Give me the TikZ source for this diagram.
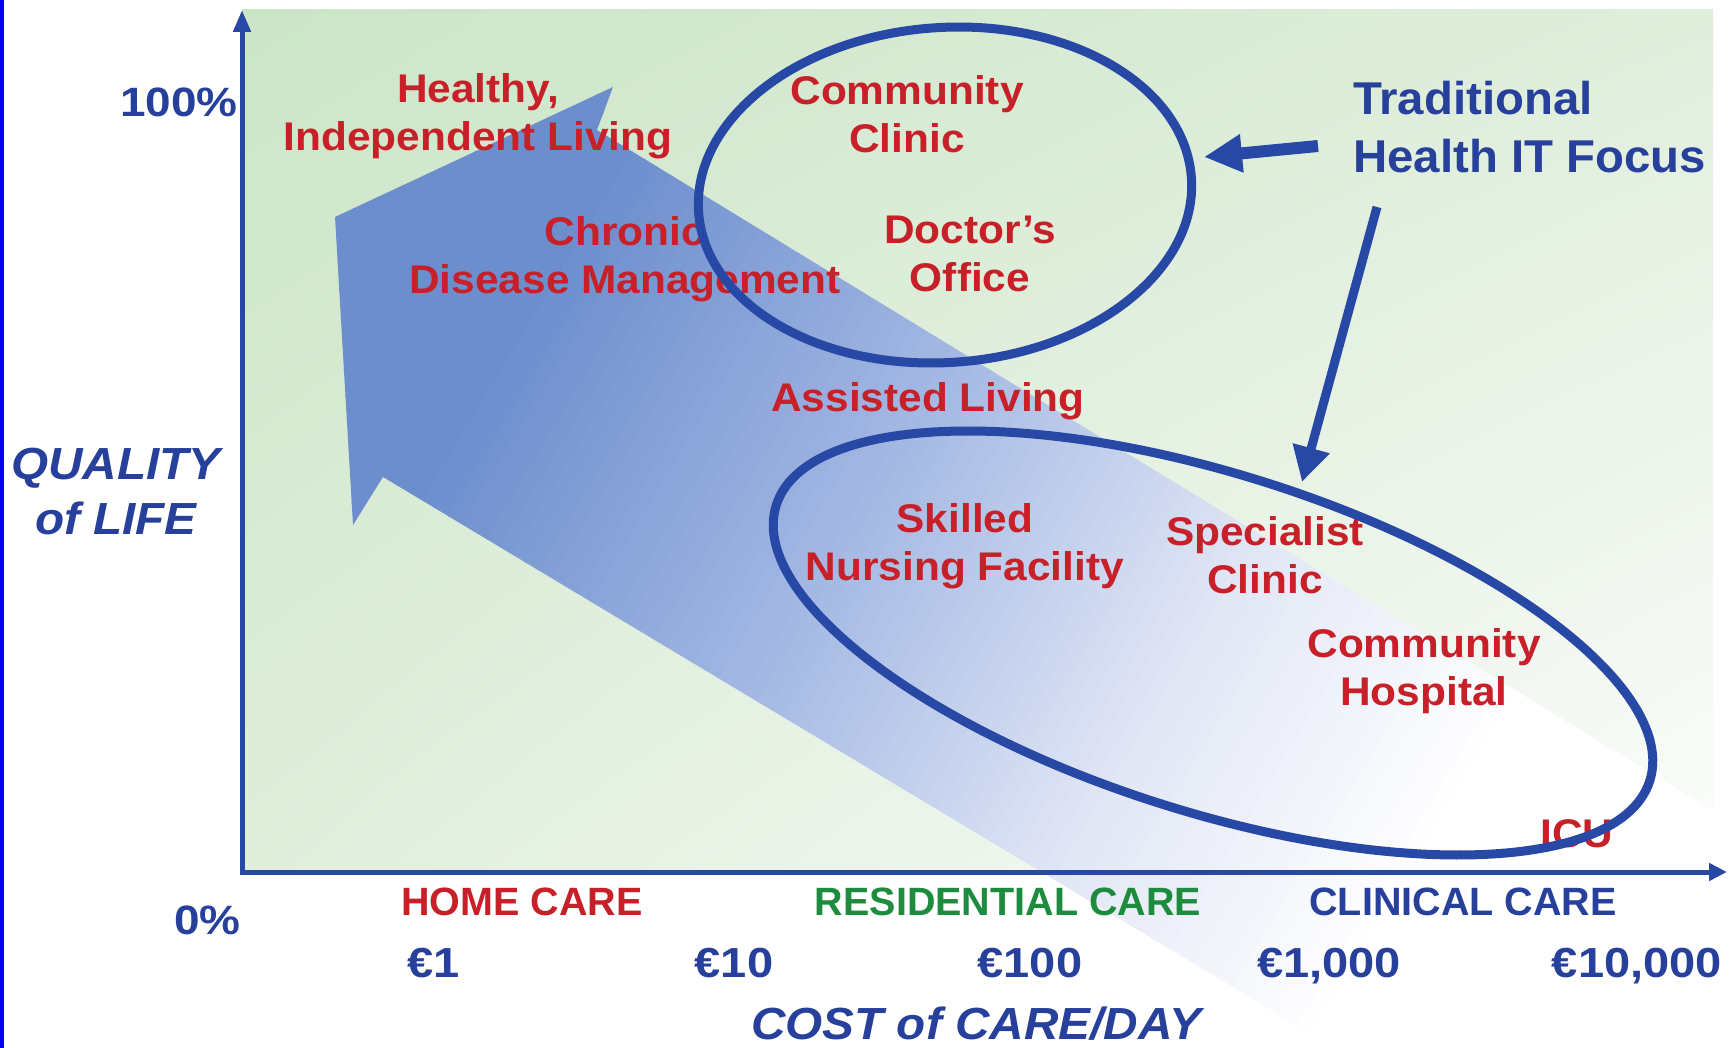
\documentclass[tikz,border=0pt]{standalone}
\usepackage{fontspec}
\setmainfont{Liberation Sans}
\newfontfamily\fRed[FakeStretch=1.06]{Liberation Sans}
\newfontfamily\fTrad[FakeStretch=1.03]{Liberation Sans}
\newfontfamily\fNum[FakeStretch=1.12]{Liberation Sans}
\newfontfamily\fCat{Liberation Sans}
\usetikzlibrary{arrows.meta,shapes.geometric,shadings}
\definecolor{axblue}{RGB}{40,72,165}
\definecolor{txtblue}{RGB}{38,64,155}
\definecolor{txtred}{RGB}{200,32,40}
\definecolor{txtgreen}{RGB}{30,140,62}
\definecolor{bgUL}{RGB}{203,229,199}
\definecolor{bgUR}{RGB}{224,238,220}
\definecolor{bgLL}{RGB}{224,238,220}
\definecolor{bgLR}{RGB}{252,253,252}
\definecolor{edgeblue}{RGB}{0,0,245}
\begin{document}
\begin{tikzpicture}[x=1pt,y=-1pt,
  redlab/.style={text=txtred, inner sep=0pt, align=center, font={\fontsize{40}{48}\selectfont\fRed\bfseries}},
  tradlab/.style={text=txtblue, inner sep=0pt, align=left, font={\fontsize{46}{58}\selectfont\fTrad\bfseries}},
  numlab/.style={text=txtblue, inner sep=0pt, font={\fontsize{41}{48}\selectfont\fNum\bfseries}},
  eurolab/.style={text=txtblue, inner sep=0pt, font={\fontsize{42}{48}\selectfont\fNum\bfseries}},
  axlab/.style={text=txtblue, inner sep=0pt, align=center, font={\fontsize{45}{55}\selectfont\fRed\bfseries\itshape}},
  catlab/.style={inner sep=0pt, font={\fontsize{39.5}{46}\selectfont\fCat\bfseries}},
  ellblue/.style={draw=axblue, line width=9pt, ellipse, inner sep=0pt, fill=none},
  conn/.style={draw=axblue, line cap=butt},
  axisline/.style={draw=axblue, line width=5pt, line join=miter}
]
\useasboundingbox (0,0) rectangle (1733,1048);
\clip (0,0) rectangle (1733,1048);
\fill[white] (0,0) rectangle (1733,1048);
\fill[edgeblue] (0,0) rectangle (4,1048);
% plot area
\shade[upper left=bgUL, upper right=bgUR, lower left=bgLL, lower right=bgLR] (242,10) rectangle (1713,872);
% big fading arrow
\begin{scope}
  \clip (613,87) -- (597,130) -- (1900,925) -- (1900,1200) -- (1588,1200) -- (383,477) -- (353,525) -- (335,217) -- cycle;
  \begin{scope}[rotate=-31]
    \foreach \sv in {380,395,...,2060}{
      \pgfmathsetmacro\ca{max(0,min(1,(\sv-600)/400))}
      \pgfmathsetmacro\cb{max(0,min(1,(\sv-1000)/350))}
      \pgfmathsetmacro\cc{max(0,min(1,(\sv-1350)/300))}
      \pgfmathtruncatemacro\colR{108+57*\ca+61*\cb+29*\cc}
      \pgfmathtruncatemacro\colG{142+43*\ca+46*\cb+24*\cc}
      \pgfmathtruncatemacro\colB{205+23*\ca+18*\cb+9*\cc}
      \definecolor{bandc}{RGB}{\colR,\colG,\colB}
      \fill[bandc] (\sv,-450) rectangle (\sv+16,450);
    }
  \end{scope}
\end{scope}
% labels in plot
\node[redlab, anchor=north] (healthy) at (478,73) {Healthy,\\Independent Living};
\node[redlab, anchor=north] (commclinic) at (907,75) {Community\\Clinic};
\node[redlab, anchor=north] (chronic) at (625,216) {Chronic\\Disease Management};
\node[redlab, anchor=north] (doctor) at (970,216) {Doctor’s\\Office};
\node[redlab, anchor=base] (assisted) at (928,412) {Assisted Living};
\node[redlab, anchor=north] (skilled) at (965,503) {Skilled\\Nursing Facility};
\node[redlab, anchor=north] (specialist) at (1265,516) {Specialist\\Clinic};
\node[redlab, anchor=north] (commhosp) at (1424,628) {Community\\Hospital};
\node[redlab, anchor=base] (icu) at (1577,847) {ICU};
\node[tradlab, anchor=north west] (trad) at (1353,81) {Traditional\\Health IT Focus};
% ellipses
\node[ellblue, minimum width=494pt, minimum height=335pt, rotate=4] (topell) at (945,195) {};
\node[ellblue, minimum width=916pt, minimum height=338pt, rotate=-17.5] (botell) at (1213,643) {};
% pointer arrows
\coordinate (a1s) at (1318,146);
\coordinate (a1e) at (1204,157);
\coordinate (a2s) at (1377,207);
\coordinate (a2e) at (1302,482);
\draw[conn, line width=12pt, -{Triangle[length=38pt,width=36pt]}] (a1s) -- (a1e);
\draw[conn, line width=9pt, -{Triangle[length=35pt,width=36pt]}] (a2s) -- (a2e);
% axes
\coordinate (O) at (242,872);
\coordinate (ytip) at (242,10);
\coordinate (xtip) at (1727,872);
\draw[axisline, {Triangle[length=22pt,width=17pt]}-{Triangle[length=18pt,width=17pt]}] (ytip) -- (O) -- (xtip);
% axis labels
\node[numlab, anchor=base east] (p100) at (238,117) {100\%};
\node[numlab, anchor=base east] (p0) at (241,934) {0\%};
\node[axlab, anchor=north] (qol) at (116,448) {QUALITY\\of LIFE};
\node[catlab, text=txtred, anchor=base] (home) at (522,915) {HOME CARE};
\node[catlab, text=txtgreen, anchor=base] (resid) at (1008,915) {RESIDENTIAL CARE};
\node[catlab, text=txtblue, anchor=base] (clin) at (1463,915) {CLINICAL CARE};
\node[eurolab, anchor=base] (e1) at (434,977) {€1};
\node[eurolab, anchor=base] (e10) at (734,977) {€10};
\node[eurolab, anchor=base] (e100) at (1030,977) {€100};
\node[eurolab, anchor=base] (e1000) at (1329,977) {€1,000};
\node[eurolab, anchor=base] (e10000) at (1637,977) {€10,000};
\node[axlab, anchor=base] (cost) at (976,1039) {COST of CARE/DAY};
\end{tikzpicture}
\end{document}
